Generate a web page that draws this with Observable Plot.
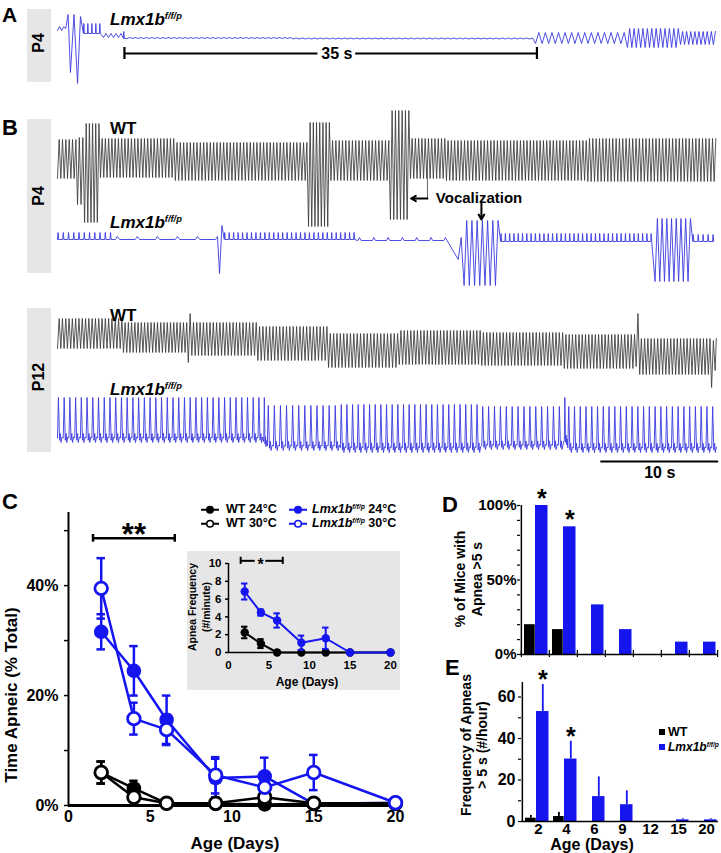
<!DOCTYPE html>
<html><head><meta charset="utf-8">
<script src="https://cdn.jsdelivr.net/npm/d3@7"></script>
<script src="https://cdn.jsdelivr.net/npm/@observablehq/plot@0.6"></script>
<style>
html,body{margin:0;padding:0;background:#fff;}
#fig{position:relative;width:721px;height:853px;background:#fff;overflow:hidden;font-family:'Liberation Sans',Arial,Helvetica,sans-serif;}
#fig > svg{position:absolute;}
.t{position:absolute;white-space:nowrap;line-height:1;font-weight:bold;color:#000;}
.sup{font-size:0.55em;position:relative;top:-0.65em;}
</style></head>
<body><div id="fig"></div>
<script>
// ---------------- DATA ----------------
// Panel C: time apneic (% of total) by age
const ageDays = [2, 4, 6, 9, 12, 15, 20];
const wt24 = [6.0, 3.1, 0.4, 0.3, 0.2, 0.3, 0.3];
const wt24Err = [2.0, 1.4, 0.2, 0.1, 0.2, 0.1, 0.1];
const wt30 = [6.0, 1.5, 0.4, 0.4, 1.5, 0.4, 0.4];
const wt30Err = [2.0, 0.6, 0.2, 0.2, 0.8, 0.2, 0.2];
const lmx24 = [31.6, 24.5, 15.6, 5.0, 5.3, 0.3, 0.5];
const lmx24Err = [3.2, 4.5, 4.4, 3.5, 3.4, 0.2, 0.2];
const lmx30 = [39.5, 15.8, 13.8, 5.5, 3.3, 6.0, 0.5];
const lmx30Err = [5.5, 2.9, 2.8, 3.3, 1.5, 3.2, 0.3];
const cTicksX = [0, 5, 10, 15, 20];
const cTicksY = [0, 20, 40];
const cMinorY = [10, 30, 50];

// Inset: apnea frequency (#/minute)
const insetWT = [2.25, 1.0, 0, 0, 0, 0, 0];
const insetWTErr = [0.65, 0.5, 0, 0, 0, 0, 0];
const insetLmx = [6.85, 4.5, 3.6, 1.1, 1.6, 0, 0];
const insetLmxErr = [0.9, 0.35, 0.8, 0.8, 1.2, 0, 0];
const insetTicksY = [0, 2, 4, 6, 8, 10];
const insetTicksX = [0, 5, 10, 15, 20];

// Panels D & E
const barCategories = ["2", "4", "6", "9", "12", "15", "20"];
const pctWT = [20, 16.7, 0, 0, 0, 0, 0];
const pctLmx = [100, 85.7, 33.3, 16.7, 0, 8.3, 8.3];
const pctStars = ["2", "4"];
const dTicksY = [0, 50, 100];
const dMinorY = [10, 20, 30, 40, 60, 70, 80, 90];
const freqWT = [1.6, 2.4, 0, 0, 0, 0, 0];
const freqWTErr = [1.3, 2.0, 0, 0, 0, 0, 0];
const freqLmx = [53, 30.1, 12, 8.1, 0, 0.8, 0.8];
const freqLmxErr = [13, 8.6, 9.5, 6.7, 0, 0.5, 0.5];
const freqStars = ["2", "4"];
const eTicksY = [0, 20, 40, 60];
const eMinorY = [10, 30, 50];

// Respiratory traces: segments [t start (s), t end (s), cycles, peak, trough, waveform]
// amplitudes relative to each trace's baseline (arbitrary units)
const traceBaseline = {A: 442, P4wt: 321, P4lmx: 241, P12wt: 140, P12lmx: 43};
const traceA_Lmx = [
  [0, 0.7, 2, 12, 8], [0.7, 1.1, 1, 24, 10], [1.1, 1.7, 1, 24, -34], [1.7, 2.2, 1, 22, -45],
  [2.2, 3.9, 5, 15, 5, "spike"], [3.9, 5.6, 4, 5, 1], [5.6, 5.9, 1, 7, 0, "spike"],
  [5.9, 20, 30, 1, 0], [20, 40.56, 40, 0.5, -0.5], [40.56, 48.36, 14, 6, -5],
  [48.36, 52.86, 12, 10, -9], [52.86, 56, 9, 7, -6]
];
const traceP4_WT = [
  [0, 1.7, 6, 20, -19], [1.7, 2.3, 2, 22, -45], [2.3, 3.65, 5, 36, -63],
  [3.65, 10, 23, 21, -18], [10, 21.3, 40, 17, -21], [21.3, 23.2, 7, 37, -67],
  [23.2, 28.25, 18, 19, -21], [28.25, 29.95, 6, 49, -60], [29.95, 33, 11, 21, -19],
  [33, 45, 43, 19, -21], [45, 56, 39, 21, -22]
];
const traceP4_Lmx = [
  [0, 4.9, 11, 7, 0, "spike"], [4.9, 13.4, 5, 3, 0, "spike"], [13.4, 13.75, 1, 3, 0],
  [13.75, 14.15, 1, 14, -34], [14.15, 25.5, 30, 7, 0, "spike"], [25.5, 34.0, 7, 2, -1, "spike"],
  [34.0, 34.5, 1, 2, -20], [34.5, 37.6, 7, 19, -46], [37.6, 50.7, 36, 6, -2, "spike"],
  [50.7, 53.9, 8, 21, -42], [53.9, 56, 5, 5, -2, "spike"]
];
const traceP12_WT = [
  [0, 5.6, 20, 22, -8], [5.6, 11.1, 20, 18, -12], [11.1, 11.4, 1, 27, -22],
  [11.4, 17, 20, 18, -15], [17, 23, 21, 14, -20], [23, 29, 21, 7, -27],
  [29, 36, 25, 10, -24], [36, 43, 25, 8, -25], [43, 49.1, 22, 6, -28],
  [49.1, 49.4, 1, 27, -26], [49.4, 55.5, 22, 2, -34], [55.5, 55.8, 1, 0, -47], [55.8, 56, 1, 2, -30]
];
const traceP12_Lmx = [
  [0, 17.5, 36, 40, -5, "pk"], [17.5, 17.8, 1, 40, -9, "pk"], [17.8, 24, 12, 32, -13, "pk"],
  [24, 36, 25, 33, -15, "pk"], [36, 43, 14, 31, -12, "pk"], [43, 43.3, 1, 40, -7, "pk"],
  [43.3, 56, 26, 31, -15, "pk"]
];
const waveShapes = {
  zig: [[0, 0], [0.5, 1]],
  spike: [[0, 0], [0.1, 1], [0.22, 0]],
  pk: [[0, 0.1], [0.16, 1], [0.36, 0.05], [0.5, 0.2], [0.62, 0], [0.8, 0.12]]
};
// annotations on traces
const scaleBarSegs = [{x1: 5.68, x2: 22.1, y: 427}, {x1: 25.3, x2: 40.68, y: 427}, {x1: 46.1, x2: 56.1, y: 19}];
const scaleBarEnds = [{x: 5.68, y1: 421, y2: 433}, {x: 40.68, y1: 421, y2: 433}];
const scaleBarLabels = [{x: 23.7, y: 427, text: "35 s"}, {x: 51.1, y: 8, text: "10 s"}];
const vocalLine = [{x: 31.39, y1: 315, y2: 282}];
const vocalArrows = [{x1: 31.39, y1: 282, x2: 30.0, y2: 282}, {x1: 35.97, y1: 278, x2: 35.97, y2: 261}];
const vocalLabel = [{x: 32.1, y: 282, text: "Vocalization"}];

// ---------------- HELPERS ----------------
const BLUE = "#1515f0";
const TRACE_BLUE = "#3a3ae0";
const FONT = "'Liberation Sans', Arial, Helvetica, sans-serif";
const fig = document.getElementById("fig");
const baseStyle = {fontFamily: FONT, fontWeight: "bold", fontSize: "16px", background: "transparent", overflow: "visible"};

function expandTrace(segs, base) {
  const out = [];
  for (const [t0, t1, n, hi, lo, shape = "zig"] of segs) {
    const p = (t1 - t0) / n;
    for (let i = 0; i < n; i++)
      for (const [f, l] of waveShapes[shape]) out.push({t: t0 + (i + f) * p, v: base + lo + l * (hi - lo)});
  }
  return out;
}
function rows(vals, errs) { return ageDays.map((day, i) => ({day, v: vals[i], e: errs[i]})); }
function place(svg, left, top) { svg.style.left = left + "px"; svg.style.top = top + "px"; fig.appendChild(svg); }
function label(html, x, y, {size = 16, italic = false, anchor = "left", rotate = false, lh = 1, align = "center", extra = ""} = {}) {
  const d = document.createElement("div");
  d.className = "t";
  d.innerHTML = html;
  const tx = anchor === "center" ? "-50%" : "0";
  d.style.cssText += `left:${x}px;top:${y}px;font-size:${size}px;line-height:${lh};text-align:${align};` +
    `font-style:${italic ? "italic" : "normal"};transform:translate(${tx},-50%)${rotate ? " rotate(-90deg)" : ""};${extra}`;
  fig.appendChild(d);
}
function box(x, y, w, h, color) {
  const d = document.createElement("div");
  d.style.cssText = `position:absolute;left:${x}px;top:${y}px;width:${w}px;height:${h}px;background:${color};`;
  fig.appendChild(d);
}

// ---------------- TRACES (A, B) ----------------
box(27, 9, 24, 73, "#e6e6e6");
box(27, 119, 24, 154, "#e6e6e6");
box(27, 308, 24, 144, "#e6e6e6");

const tracePlot = Plot.plot({
  width: 721, height: 480, marginLeft: 57, marginRight: 4, marginTop: 0, marginBottom: 0,
  x: {domain: [0, 56], axis: null}, y: {domain: [0, 480], axis: null},
  style: baseStyle,
  marks: [
    Plot.line(expandTrace(traceA_Lmx, traceBaseline.A), {x: "t", y: "v", stroke: TRACE_BLUE, strokeWidth: 0.9}),
    Plot.line(expandTrace(traceP4_WT, traceBaseline.P4wt), {x: "t", y: "v", stroke: "#3a3a3a", strokeWidth: 0.85}),
    Plot.line(expandTrace(traceP4_Lmx, traceBaseline.P4lmx), {x: "t", y: "v", stroke: TRACE_BLUE, strokeWidth: 0.9}),
    Plot.line(expandTrace(traceP12_WT, traceBaseline.P12wt), {x: "t", y: "v", stroke: "#3a3a3a", strokeWidth: 0.85}),
    Plot.line(expandTrace(traceP12_Lmx, traceBaseline.P12lmx), {x: "t", y: "v", stroke: TRACE_BLUE, strokeWidth: 0.9}),
    Plot.ruleY(scaleBarSegs, {x1: "x1", x2: "x2", y: "y", stroke: "#000", strokeWidth: 2.2}),
    Plot.ruleX(scaleBarEnds, {x: "x", y1: "y1", y2: "y2", stroke: "#000", strokeWidth: 2.2}),
    Plot.text(scaleBarLabels, {x: "x", y: "y", text: "text", fontSize: 16, fontWeight: "bold", fill: "#000"}),
    Plot.ruleX(vocalLine, {x: "x", y1: "y1", y2: "y2", stroke: "#666", strokeWidth: 1}),
    Plot.arrow(vocalArrows, {x1: "x1", y1: "y1", x2: "x2", y2: "y2", stroke: "#000", strokeWidth: 2, headLength: 9}),
    Plot.text(vocalLabel, {x: "x", y: "y", text: "text", textAnchor: "start", fontSize: 15, fontWeight: "bold", fill: "#000"})
  ]
});
place(tracePlot, 0, 0);

// ---------------- PANEL C ----------------
const cSeries = [
  {data: rows(lmx24, lmx24Err), color: BLUE, open: false},
  {data: rows(lmx30, lmx30Err), color: BLUE, open: true},
  {data: rows(wt24, wt24Err), color: "#000", open: false},
  {data: rows(wt30, wt30Err), color: "#000", open: true}
];
const cMarks = [];
for (const s of cSeries) cMarks.push(Plot.line(s.data, {x: "day", y: "v", stroke: s.color, strokeWidth: 2.5}));
for (const s of cSeries) {
  cMarks.push(Plot.ruleX(s.data, {x: "day", y1: d => d.v - d.e, y2: d => d.v + d.e, stroke: s.color, strokeWidth: 2.5}));
  cMarks.push(Plot.ruleY(s.data, {x1: d => d.day - 0.26, x2: d => d.day + 0.26, y: d => d.v + d.e, stroke: s.color, strokeWidth: 2.5}));
  cMarks.push(Plot.ruleY(s.data, {x1: d => d.day - 0.26, x2: d => d.day + 0.26, y: d => d.v - d.e, stroke: s.color, strokeWidth: 2.5}));
}
const dotOrder = [cSeries[0], cSeries[2], cSeries[3], cSeries[1]];
for (const s of dotOrder) cMarks.push(Plot.dot(s.data, s.open
  ? {x: "day", y: "v", r: 6.3, fill: "#fff", stroke: s.color, strokeWidth: 2.8}
  : {x: "day", y: "v", r: 7.3, fill: s.color}));
const cBracket = [{x1: 1.5, x2: 6.5, y: 48.6, star: "**"}];
const cPlot = Plot.plot({
  width: 470, height: 383, marginLeft: 68, marginRight: 75, marginTop: 42, marginBottom: 48,
  x: {domain: [0, 20]}, y: {domain: [0, 53.3]},
  style: baseStyle,
  marks: [
    Plot.axisY({ticks: cTicksY, tickFormat: d => d + "%", tickSize: 4, tickPadding: 6, fontSize: 16, label: null, strokeWidth: 1.5}),
    Plot.axisY({ticks: cMinorY, tickFormat: () => "", tickSize: 4, label: null, strokeWidth: 1.5}),
    Plot.axisX({ticks: cTicksX, tickSize: 0, tickPadding: 5, fontSize: 16, label: null}),
    Plot.ruleX([0], {strokeWidth: 2}),
    Plot.ruleY([0], {x1: 0, x2: 20.3, strokeWidth: 3}),
    ...cMarks,
    Plot.ruleY(cBracket, {x1: "x1", x2: "x2", y: "y", strokeWidth: 2.5}),
    Plot.ruleX(cBracket.flatMap(b => [b.x1, b.x2]), {x: d => d, y1: 47.9, y2: 49.3, strokeWidth: 2.5}),
    Plot.text(cBracket, {x: d => (d.x1 + d.x2) / 2, y: "y", text: "star", fontSize: 31, fontWeight: "bold", dy: -3})
  ]
});
place(cPlot, 0, 470);

// ---------------- INSET ----------------
const iSeries = [
  {data: rows(insetWT, insetWTErr), color: "#000"},
  {data: rows(insetLmx, insetLmxErr), color: BLUE}
];
const iMarks = [];
for (const s of iSeries) {
  const withErr = s.data.filter(d => d.e > 0);
  iMarks.push(Plot.line(s.data, {x: "day", y: "v", stroke: s.color, strokeWidth: 2}));
  iMarks.push(Plot.ruleX(withErr, {x: "day", y1: d => d.v - d.e, y2: d => d.v + d.e, stroke: s.color, strokeWidth: 2}));
  iMarks.push(Plot.ruleY(withErr, {x1: d => d.day - 0.4, x2: d => d.day + 0.4, y: d => d.v + d.e, stroke: s.color, strokeWidth: 2}));
  iMarks.push(Plot.ruleY(withErr, {x1: d => d.day - 0.4, x2: d => d.day + 0.4, y: d => d.v - d.e, stroke: s.color, strokeWidth: 2}));
  iMarks.push(Plot.dot(s.data, {x: "day", y: "v", r: 4.2, fill: s.color}));
}
const iBracketSegs = [{x1: 1.5, x2: 3.3, y: 10.3}, {x1: 4.6, x2: 6.7, y: 10.3}];
const insetPlot = Plot.plot({
  width: 213, height: 139, marginLeft: 41, marginRight: 10, marginTop: 12, marginBottom: 38,
  x: {domain: [0, 20]}, y: {domain: [0, 10]},
  style: {...baseStyle, fontSize: "11px", background: "#e6e6e6"},
  marks: [
    Plot.axisY({ticks: insetTicksY, tickSize: 3, tickPadding: 4, fontSize: 11.5, label: null, strokeWidth: 1.5}),
    Plot.axisX({ticks: insetTicksX, tickSize: 0, tickPadding: 8, fontSize: 11.5, label: null}),
    Plot.ruleX([0], {strokeWidth: 1.5}),
    Plot.ruleY([0], {x1: 0, x2: 20.4, strokeWidth: 1.5}),
    ...iMarks,
    Plot.ruleY(iBracketSegs, {x1: "x1", x2: "x2", y: "y", strokeWidth: 2}),
    Plot.ruleX([1.5, 6.7], {x: d => d, y1: 9.9, y2: 10.7, strokeWidth: 2}),
    Plot.text(["*"], {x: 3.95, y: 10.3, text: d => d, fontSize: 16, fontWeight: "bold", dy: 4})
  ]
});
place(insetPlot, 187, 551);

// ---------------- PANEL D ----------------
const BW = 198 / 7;
const dRowsWT = barCategories.map((cat, i) => ({cat, v: pctWT[i]}));
const dRowsLmx = barCategories.map((cat, i) => ({cat, v: pctLmx[i]}));
const dPlot = Plot.plot({
  width: 281, height: 180, marginLeft: 80, marginRight: 3, marginTop: 20, marginBottom: 11,
  x: {type: "band", domain: barCategories, padding: 0, axis: null}, y: {domain: [0, 100]},
  style: baseStyle,
  marks: [
    Plot.axisY({ticks: dTicksY, tickFormat: d => d + "%", tickSize: 3, tickPadding: 1, fontSize: 15, label: null, strokeWidth: 1.2}),
    Plot.axisY({ticks: dMinorY, tickFormat: () => "", tickSize: 3, label: null, strokeWidth: 1.2}),
    Plot.barY(dRowsWT, {x: "cat", y: "v", fill: "#000", insetLeft: 3, insetRight: BW - 14}),
    Plot.barY(dRowsLmx, {x: "cat", y: "v", fill: BLUE, insetLeft: 14, insetRight: 1.5}),
    Plot.ruleX([barCategories[0]], {dx: -BW / 2, strokeWidth: 1.5}),
    Plot.ruleY([0], {strokeWidth: 1.5}),
    Plot.ruleX(barCategories, {x: d => d, dx: -BW / 2, y1: -2, y2: 2.7, strokeWidth: 1.2}),
    Plot.ruleX(barCategories.slice(-1), {x: d => d, dx: BW / 2, y1: -2, y2: 2.7, strokeWidth: 1.2}),
    Plot.text(dRowsLmx.filter(d => pctStars.includes(d.cat)), {x: "cat", y: "v", text: () => "*", dx: 6.3, dy: -6.5, fontSize: 25, fontWeight: "bold"})
  ]
});
place(dPlot, 440, 485);

// ---------------- PANEL E ----------------
const eRowsWT = barCategories.map((cat, i) => ({cat, v: freqWT[i], e: freqWTErr[i]}));
const eRowsLmx = barCategories.map((cat, i) => ({cat, v: freqLmx[i], e: freqLmxErr[i]}));
const ePlot = Plot.plot({
  width: 281, height: 193, marginLeft: 81, marginRight: 3, marginTop: 22, marginBottom: 32,
  x: {type: "band", domain: barCategories, padding: 0}, y: {domain: [0, 67]},
  style: baseStyle,
  marks: [
    Plot.axisY({ticks: eTicksY, tickSize: 3, tickPadding: 3, fontSize: 16, label: null, strokeWidth: 1.2}),
    Plot.axisY({ticks: eMinorY, tickFormat: () => "", tickSize: 3, label: null, strokeWidth: 1.2}),
    Plot.axisX({tickSize: 0, tickPadding: 2, fontSize: 15, label: null, dx: 2}),
    Plot.ruleX(eRowsWT.filter(d => d.e > 0), {x: "cat", y1: "v", y2: d => d.v + d.e, dx: -5.6, stroke: "#000", strokeWidth: 1.8}),
    Plot.ruleY(eRowsWT.filter(d => d.e > 0), {x: "cat", y: d => d.v + d.e, insetLeft: 3, insetRight: BW - 14, stroke: "#000", strokeWidth: 1.8}),
    Plot.ruleX(eRowsLmx.filter(d => d.e > 0), {x: "cat", y1: "v", y2: d => d.v + d.e, dx: 6.3, stroke: BLUE, strokeWidth: 1.8}),
    Plot.ruleY(eRowsLmx.filter(d => d.e > 0), {x: "cat", y: d => d.v + d.e, insetLeft: 14.5, insetRight: 1.5, stroke: BLUE, strokeWidth: 1.8}),
    Plot.barY(eRowsWT, {x: "cat", y: "v", fill: "#000", insetLeft: 3, insetRight: BW - 14}),
    Plot.barY(eRowsLmx, {x: "cat", y: "v", fill: BLUE, insetLeft: 14, insetRight: 1.5}),
    Plot.ruleX([barCategories[0]], {dx: -BW / 2, strokeWidth: 1.5}),
    Plot.ruleY([0], {strokeWidth: 1.5}),
    Plot.text(eRowsLmx.filter(d => freqStars.includes(d.cat)), {x: "cat", y: d => d.v + d.e, text: () => "*", dx: 6.3, dy: -4.5, fontSize: 25, fontWeight: "bold"})
  ]
});
place(ePlot, 440, 660);

// ---------------- TEXT OVERLAYS ----------------
const LMX = 'Lmx1b<span class="sup">f/f/p</span>';
label("A", 2, 14, {size: 21});
label("B", 2, 128, {size: 22});
label("C", 2, 502, {size: 22});
label("D", 442, 505, {size: 22});
label("E", 445, 668, {size: 22});
label("P4", 39, 43, {size: 16, anchor: "center", rotate: true});
label("P4", 39, 196, {size: 16, anchor: "center", rotate: true});
label("P12", 39, 377, {size: 16, anchor: "center", rotate: true});
label(LMX, 110, 19, {size: 17, italic: true});
label("WT", 110, 128, {size: 17});
label(LMX, 110, 222, {size: 17, italic: true});
label("WT", 110, 315, {size: 17});
label(LMX, 110, 389, {size: 17, italic: true});

label("Time Apneic (% Total)", 11, 695, {size: 17, anchor: "center", rotate: true});
label("Age (Days)", 235, 843, {size: 17, anchor: "center"});
label("Apnea Frequency<br>(#/minute)", 200, 607, {size: 10.5, anchor: "center", rotate: true, lh: 1.3});
label("Age (Days)", 307, 682, {size: 12, anchor: "center"});
label("% of Mice with<br>Apnea &gt;5 s", 469, 579, {size: 14, anchor: "center", rotate: true, lh: 1.2});
label("Frequency of Apneas<br>&gt; 5 s (#/hour)", 474, 745, {size: 14, anchor: "center", rotate: true, lh: 1.15});
label("Age (Days)", 592, 845, {size: 16, anchor: "center"});

// legend C
function sym(color, open) {
  return `<svg width="18" height="10" style="vertical-align:middle;overflow:visible"><line x1="0" y1="5" x2="18" y2="5" stroke="${color}" stroke-width="2"/>` +
    `<circle cx="9" cy="5" r="${open ? 3.3 : 4}" fill="${open ? "#fff" : color}" stroke="${color}" stroke-width="${open ? 1.6 : 0}"/></svg>`;
}
label(sym("#000", false) + '<span style="margin-left:7px">WT 24°C</span>', 201, 509, {size: 12.5});
label(sym("#000", true) + '<span style="margin-left:7px">WT 30°C</span>', 201, 523, {size: 12.5});
label(sym(BLUE, false) + '<span style="margin-left:5px"><i>' + LMX + '</i> 24°C</span>', 289, 509, {size: 12.5});
label(sym(BLUE, true) + '<span style="margin-left:5px"><i>' + LMX + '</i> 30°C</span>', 289, 523, {size: 12.5});

// legend E
box(659, 729, 6, 6, "#000");
box(659, 744, 6, 6, BLUE);
label("WT", 668, 732, {size: 12.5});
label(LMX, 668, 747, {size: 12, italic: true});
</script></body></html>
